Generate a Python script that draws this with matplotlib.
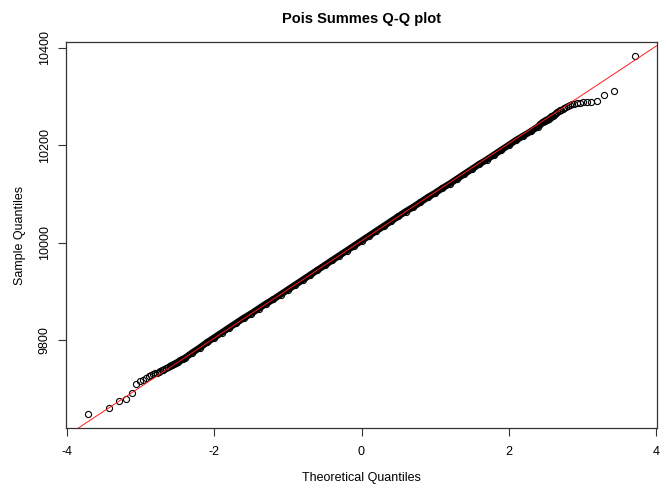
import matplotlib
matplotlib.use("Agg")
import matplotlib.pyplot as plt
import numpy as np

# ---- data (theoretical quantile, sample quantile) ----
lower_theo = [-3.719, -3.432, -3.291, -3.195, -3.121, -3.062, -3.011, -2.968, -2.929,
              -2.894, -2.862, -2.834, -2.807, -2.782, -2.759, -2.737, -2.716, -2.697,
              -2.678, -2.661, -2.628, -2.597, -2.569, -2.543, -2.518, -2.495, -2.462, -2.43]
lower_samp = [9650, 9662, 9676, 9681, 9693, 9710, 9716, 9720, 9724,
              9727, 9729, 9731, 9733, 9734, 9735, 9737, 9739, 9740,
              9741, 9743, 9745, 9748, 9750, 9752, 9754, 9756, 9759, 9762]

body_theo = [-2.4, -2.3, -2.2, -2.1, -2.0, -1.9, -1.8, -1.7, -1.6, -1.5, -1.4, -1.3,
             -1.2, -1.1, -1.0, -0.9, -0.8, -0.7, -0.6, -0.5, -0.4, -0.3, -0.2, -0.1,
             0.0, 0.1, 0.2, 0.3, 0.4, 0.5, 0.6, 0.7, 0.8, 0.9, 1.0, 1.1, 1.2, 1.3,
             1.4, 1.5, 1.6, 1.7, 1.8, 1.9, 2.0, 2.1, 2.2, 2.3, 2.4]
body_samp = [9764, 9775, 9785, 9796, 9806, 9816, 9826, 9836, 9846, 9855, 9865, 9875,
             9884, 9894, 9904, 9914, 9924, 9934, 9944, 9954, 9964, 9974, 9984, 9994,
             10004, 10014, 10024, 10034, 10044, 10054, 10064, 10073, 10083, 10093, 10102, 10112, 10121, 10131,
             10141, 10151, 10161, 10170, 10180, 10190, 10200, 10210, 10219, 10228, 10238]

upper_theo = [2.43, 2.462, 2.495, 2.518, 2.543, 2.569, 2.583, 2.597, 2.612, 2.628,
              2.644, 2.661, 2.678, 2.697, 2.716, 2.737, 2.759, 2.782, 2.807, 2.834,
              2.862, 2.894, 2.929, 2.968, 3.011, 3.062, 3.121, 3.195, 3.291, 3.432, 3.719]
upper_samp = [10243, 10247, 10250, 10252, 10254, 10257, 10259, 10260, 10262, 10264,
              10266, 10268, 10270, 10272, 10273, 10275, 10277, 10279, 10281, 10283,
              10285, 10285, 10286, 10287, 10288, 10288, 10289, 10290, 10302, 10311, 10382]

# qqline parameters
line_intercept = 10004
line_slope = 99.6

x_ticks = [-4, -2, 0, 2, 4]
y_ticks = [9800, 10000, 10200, 10400]

theo = np.array(lower_theo + body_theo + upper_theo)
samp = np.array(lower_samp + body_samp + upper_samp)

plt.rcParams['font.family'] = ['Liberation Sans', 'DejaVu Sans']

W, H = 666, 488
fig = plt.figure(figsize=(W / 100, H / 100), dpi=100)
left, right, top, bottom = 66, 657, 42, 428
ax = fig.add_axes([left / W, 1 - bottom / H, (right - left) / W, (bottom - top) / H])

# dense band (many overlapping points)
dense = np.abs(theo) <= 2.6
ax.plot(theo[dense], samp[dense], color='black', lw=4.8, solid_capstyle='round', zorder=2)
ax.plot(theo, samp, linestyle='none', marker='o', markersize=4.4,
        markerfacecolor='none', markeredgecolor='black', markeredgewidth=0.8, zorder=3)

ax.axline((0, line_intercept), slope=line_slope, color='#ff1a1a', lw=0.7, zorder=4)

xr = theo.max() - theo.min()
yr = samp.max() - samp.min()
ax.set_xlim(theo.min() - 0.04 * xr, theo.max() + 0.04 * xr)
ax.set_ylim(samp.min() - 0.04 * yr, samp.max() + 0.04 * yr)

ax.set_xticks(x_ticks)
ax.set_yticks(y_ticks)
ax.set_xticklabels([f"{t:g}" for t in x_ticks])
ax.set_yticklabels([str(t) for t in y_ticks], rotation=90, va='center')
ax.tick_params(direction='out', length=6, width=0.8, colors='#333333', labelcolor='black',
               labelsize=9)
ax.tick_params(axis='x', pad=7)
ax.tick_params(axis='y', pad=5)
for s in ax.spines.values():
    s.set_linewidth(0.9)
    s.set_color('#333333')

ax.set_xlabel("Theoretical Quantiles", fontsize=9, labelpad=10)
ax.set_ylabel("Sample Quantiles", fontsize=9, labelpad=9)
ax.set_title("Pois Summes Q-Q plot", fontsize=10.5, fontweight='bold', pad=14)

fig.savefig("out.png", dpi=100)
